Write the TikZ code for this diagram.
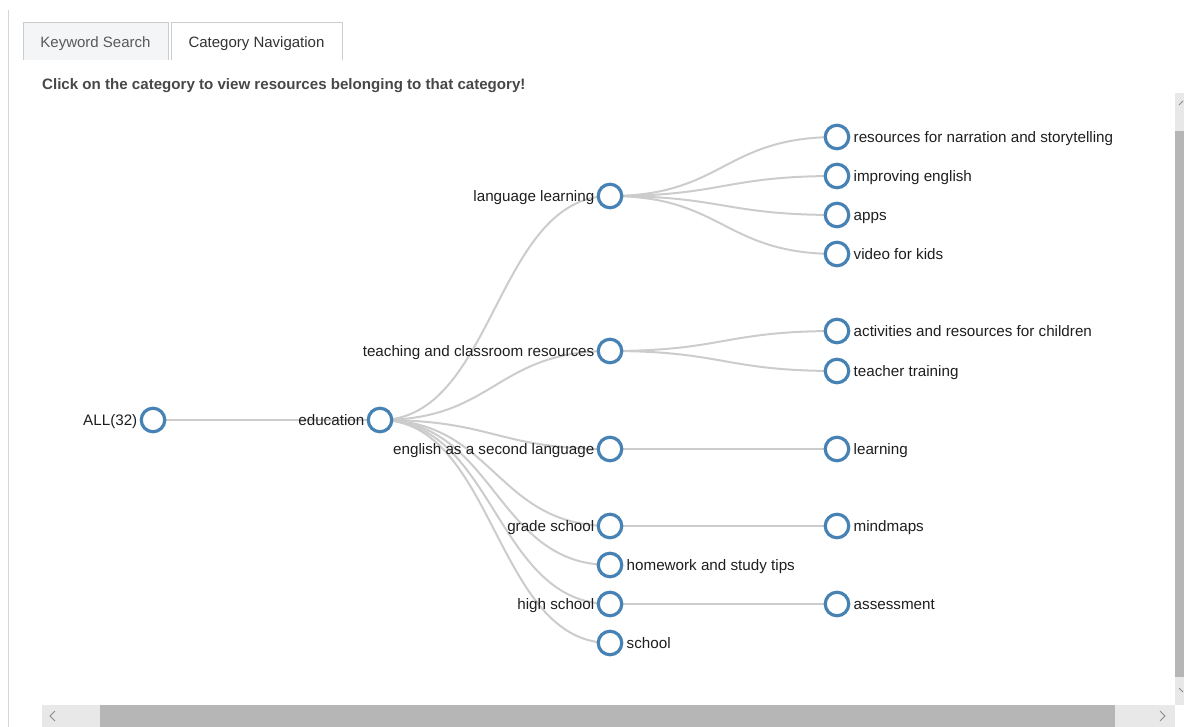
\documentclass[tikz,border=0pt]{standalone}
\usepackage{fontspec}
\setmainfont{Liberation Sans}
\usetikzlibrary{backgrounds,calc}

\definecolor{ring}{HTML}{4682B4}
\definecolor{linkgray}{HTML}{CCCCCC}
\definecolor{txt}{HTML}{1E1E1E}
\definecolor{tabline}{HTML}{CCCCCC}
\definecolor{tabfill}{HTML}{F4F5F7}
\definecolor{barlight}{HTML}{E8E8E8}
\definecolor{barthumb}{HTML}{B6B6B6}
\definecolor{arrowgray}{HTML}{8A8A8A}

\tikzset{
  dot/.style={circle, draw=ring, line width=3.2pt, fill=white, minimum size=23.5pt, inner sep=0pt},
  lbl/.style={font=\fontsize{15.2}{18}\selectfont, text=txt, inner sep=0pt},
  link/.style={draw=linkgray, line width=2pt},
  tabtext/.style={font=\fontsize{15}{18}\selectfont, inner sep=0pt},
}

% inner node: label on the left; leaf: label on the right
\newcommand{\innernode}[4]{%
  \node[dot] (#1) at (#2,#3) {};
  \node[lbl, anchor=base east] (#1-t) at ([shift={(-15.5,5.3)}]#1.center) {#4};}
\newcommand{\leafnode}[4]{%
  \node[dot] (#1) at (#2,#3) {};
  \node[lbl, anchor=base west] (#1-t) at ([shift={(16.5,5.3)}]#1.center) {#4};}
% horizontal diagonal link between two nodes
\newcommand{\treelink}[2]{%
  \draw[link] let \p1=(#1.center), \p2=(#2.center) in
    (\p1) .. controls ({0.5*\x1+0.5*\x2},\y1) and ({0.5*\x1+0.5*\x2},\y2) .. (\p2);}

\begin{document}
\begin{tikzpicture}[x=1pt, y=-1pt]
  \useasboundingbox (0,0) rectangle (1184,727);

  % panel frame line
  \draw[draw=tabline!80, line width=1pt] (8.5,10) -- (8.5,727);

  % tabs
  \filldraw[fill=tabfill, draw=tabline, line width=1pt] (23,60) -- (23,23) -- (168,23) -- (168,60);
  \filldraw[fill=white, draw=tabline, line width=1pt] (171,60) -- (171,23) -- (342,23) -- (342,60);
  \node[tabtext, text=black!65, anchor=base] (tabA) at (95.5,47.5) {Keyword Search};
  \node[tabtext, text=black!80, anchor=base] (tabB) at (256.5,47.5) {Category Navigation};

  % instruction line
  \node[font=\bfseries\fontsize{15.1}{18}\selectfont, text=black!72, inner sep=0pt, anchor=base west]
    (hint) at (42,89.5) {Click on the category to view resources belonging to that category!};

  % scrollbars
  \fill[barlight] (1175,93) rectangle (1184,705);
  \fill[barthumb] (1175,131) rectangle (1184,677);
  \fill[barlight] (42,705) rectangle (1175,727);
  \fill[barthumb] (100,705) rectangle (1115,727);
  \draw[arrowgray, line width=0.9pt] (55,711) -- (50,716) -- (55,721);
  \draw[arrowgray, line width=0.9pt] (1160,711) -- (1165,716) -- (1160,721);
  \draw[arrowgray, line width=0.9pt] (1179,105) -- (1183,101);
  \draw[arrowgray, line width=0.9pt] (1179,688) -- (1183,692);

  % tree nodes
  \innernode{all}{153}{420}{ALL(32)}
  \innernode{edu}{380}{420}{education}
  \innernode{lang}{610}{196}{language learning}
  \innernode{teach}{610}{351}{teaching and classroom resources}
  \innernode{esl}{610}{449}{english as a second language}
  \innernode{grade}{610}{526}{grade school}
  \leafnode{home}{610}{565}{homework and study tips}
  \innernode{high}{610}{604}{high school}
  \leafnode{school}{610}{643}{school}
  \leafnode{narr}{837}{137}{resources for narration and storytelling}
  \leafnode{impr}{837}{176}{improving english}
  \leafnode{apps}{837}{215}{apps}
  \leafnode{video}{837}{254}{video for kids}
  \leafnode{activ}{837}{331}{activities and resources for children}
  \leafnode{train}{837}{371}{teacher training}
  \leafnode{learn}{837}{449}{learning}
  \leafnode{mind}{837}{526}{mindmaps}
  \leafnode{assess}{837}{604}{assessment}

  % links behind the nodes
  \begin{pgfonlayer}{background}
    \treelink{all}{edu}
    \treelink{edu}{lang}
    \treelink{edu}{teach}
    \treelink{edu}{esl}
    \treelink{edu}{grade}
    \treelink{edu}{home}
    \treelink{edu}{high}
    \treelink{edu}{school}
    \treelink{lang}{narr}
    \treelink{lang}{impr}
    \treelink{lang}{apps}
    \treelink{lang}{video}
    \treelink{teach}{activ}
    \treelink{teach}{train}
    \treelink{esl}{learn}
    \treelink{grade}{mind}
    \treelink{high}{assess}
  \end{pgfonlayer}
\end{tikzpicture}
\end{document}
